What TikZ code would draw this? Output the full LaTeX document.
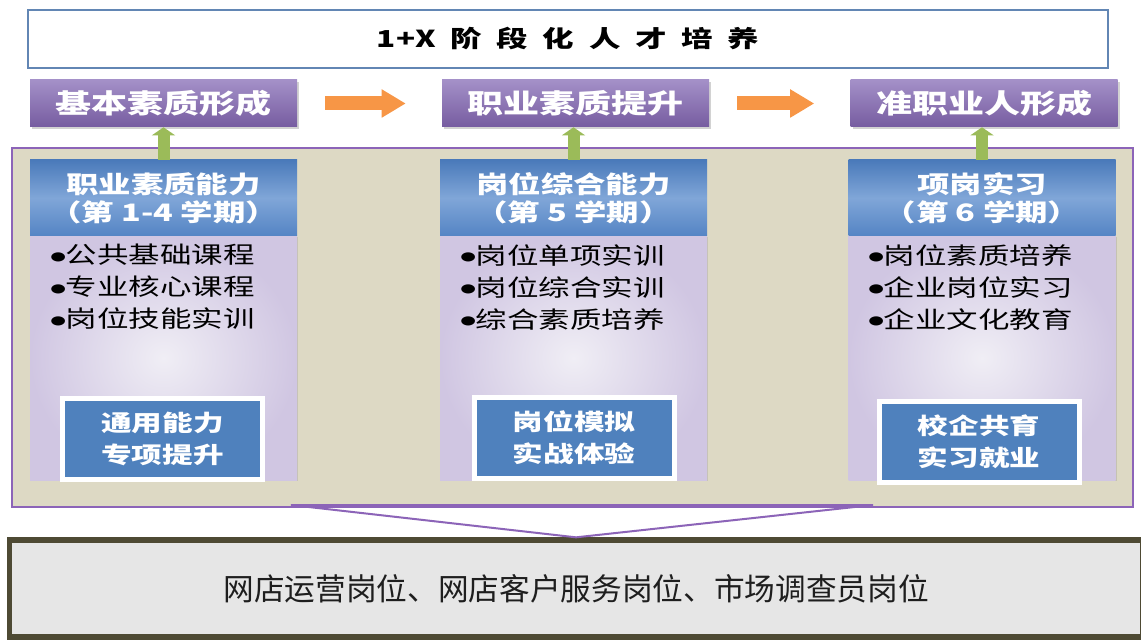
\documentclass[tikz,border=0pt]{standalone}
\usepackage{fontspec}
\usepackage{xcolor}
\usetikzlibrary{arrows.meta,shadows}
\newfontfamily\cjk{Noto Sans CJK SC}
\newfontfamily\cjkw[FakeStretch=1.35]{Noto Sans CJK SC}
\newfontfamily\dotfont[FakeStretch=1.5]{DejaVu Sans}
\newcommand\bul{\raisebox{2.5pt}{\dotfont\fontsize{9pt}{9pt}\selectfont ●}}
\newcommand\tsp{\hspace{11pt}}
\definecolor{titleline}{RGB}{98,134,180}
\definecolor{stagetop}{RGB}{164,144,200}
\definecolor{stagebot}{RGB}{118,92,160}
\definecolor{panelfill}{RGB}{221,217,196}
\definecolor{panelline}{RGB}{140,100,184}
\definecolor{headtop}{RGB}{74,122,186}
\definecolor{headmid}{RGB}{128,166,216}
\definecolor{headbot}{RGB}{84,132,196}
\definecolor{bodyin}{RGB}{240,238,245}
\definecolor{bodyout}{RGB}{208,198,226}
\definecolor{unitblue}{RGB}{79,129,189}
\definecolor{jobline}{RGB}{78,74,52}
\definecolor{jobfill}{RGB}{230,230,230}
\definecolor{greenarr}{RGB}{155,187,89}
\definecolor{orangearr}{RGB}{247,150,70}

\begin{document}
\begin{tikzpicture}[x=0.75pt,y=0.75pt,yscale=-1,xscale=1,
  titlebox/.style={draw=titleline,line width=1.5pt,fill=white,minimum width=810pt,minimum height=43.5pt,
    font=\cjkw\bfseries\fontsize{17.5pt}{20pt}\selectfont},
  stage/.style={top color=stagetop,bottom color=stagebot,minimum width=200.25pt,minimum height=35.25pt,
    text=white,font=\cjkw\bfseries\fontsize{20pt}{24pt}\selectfont,
    drop shadow={opacity=0.35,shadow xshift=1.5pt,shadow yshift=-1.5pt}},
  panel/.style={draw=panelline,line width=1.5pt,fill=panelfill},
  head/.style={top color=headtop,bottom color=headbot,middle color=headmid,minimum width=200.25pt,minimum height=57pt,
    text=white,align=center,font=\cjkw\bfseries\fontsize{18pt}{21pt}\selectfont},
  body/.style={inner color=bodyin,outer color=bodyout,minimum width=200.25pt,minimum height=183pt,
    drop shadow={opacity=0.25,shadow xshift=1pt,shadow yshift=-1pt}},
  items/.style={anchor=north west,align=left,inner sep=0pt,font=\cjkw\fontsize{17.5pt}{24pt}\selectfont},
  unit/.style={fill=unitblue,draw=white,line width=3.75pt,minimum width=150pt,minimum height=60.75pt,
    text=white,align=center,font=\cjkw\bfseries\fontsize{17pt}{24pt}\selectfont,
    drop shadow={opacity=0.4,shadow xshift=2pt,shadow yshift=-2pt}},
  job/.style={draw=jobline,line width=4pt,fill=jobfill,minimum width=849.75pt,minimum height=72.75pt,
    text={rgb,255:red,30;green,30;blue,30},font=\cjk\fontsize{23pt}{27pt}\selectfont},
  uparr/.style={draw=greenarr,line width=9pt,-{Triangle[width=17pt,length=6pt]}},
  nextarr/.style={draw=orangearr,line width=10.5pt,-{Triangle[width=20pt,length=18pt]},shorten <=21pt,shorten >=27pt},
  funnel/.style={draw=panelline,line width=1.5pt}]

\path[use as bounding box,fill=white] (0,0) rectangle (1141,641);

\node[titlebox] (title) at (568,39) {1+X\tsp 阶\tsp 段\tsp 化\tsp 人\tsp 才\tsp 培\tsp 养};

\node[stage] (s1) at (163.5,103.5) {基本素质形成};
\node[stage] (s2) at (575.5,103.5) {职业素质提升};
\node[stage] (s3) at (984,103.5) {准职业人形成};

\node[panel,minimum width=840.75pt,minimum height=269.25pt] (panel) at (572.5,327.5) {};

\node[body] (b1) at (163.5,358) {};
\node[body] (b2) at (573.5,358) {};
\node[body] (b3) at (982,358) {};
\node[head] (h1) at (163.5,198) {职业素质能力\\（第 1-4 学期）};
\node[head] (h2) at (573.5,198) {岗位综合能力\\（第 5 学期）};
\node[head] (h3) at (982,198) {项岗实习\\（第 6 学期）};

\node[items] (l1) at (50,244) {\bul 公共基础课程\\\bul 专业核心课程\\\bul 岗位技能实训};
\node[items] (l2) at (460,244) {\bul 岗位单项实训\\\bul 岗位综合实训\\\bul 综合素质培养};
\node[items] (l3) at (868,244) {\bul 岗位素质培养\\\bul 企业岗位实习\\\bul 企业文化教育};

\node[unit] (u1) at (162.5,439) {通用能力\\专项提升};
\node[unit] (u2) at (574,438) {岗位模拟\\实战体验};
\node[unit] (u3) at (979,442) {校企共育\\实习就业};

\draw[uparr] (h1.north) -- (h1.north |- s1.south);
\draw[uparr] (h2.north) -- (h2.north |- s2.south);
\draw[uparr] (h3.north) -- (h3.north |- s3.south);

\draw[nextarr] (s1) -- (s2);
\draw[nextarr] (s2) -- (s3);

\node[job] (job) at (576,588.5) {网店运营岗位、网店客户服务岗位、市场调查员岗位};

\coordinate (fl) at (291,505);
\coordinate (fr) at (873,505);
\draw[funnel] (fl) -- (job.north) -- (fr) -- cycle;

\end{tikzpicture}
\end{document}
